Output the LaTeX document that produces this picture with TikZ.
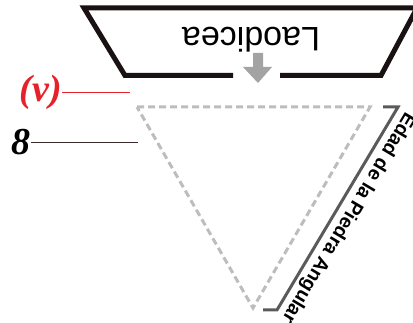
\documentclass[tikz,border=0pt]{standalone}
\usepackage{fontspec}
\setmainfont{Liberation Serif}
\setsansfont{Liberation Sans}
\definecolor{framecol}{HTML}{1A1212}
\definecolor{dashgray}{HTML}{BDBDBF}
\definecolor{bracketgray}{HTML}{5A5A5A}
\definecolor{arrowgray}{HTML}{A3A3A3}
\definecolor{labred}{HTML}{E5222B}
\definecolor{labline}{HTML}{3B2C2C}
\begin{document}
\begin{tikzpicture}[x=1pt,y=-1pt,
  tag/.style={font=\fontsize{38}{38}\selectfont\bfseries\itshape, inner sep=0pt}]
\useasboundingbox (0,0) rectangle (413,323);
% Laodicea box with the arrow
\draw[framecol, line width=5pt, line join=miter] (233,75.5) -- (125,75.5) -- (84,8) -- (417,8) -- (381,75.5) -- (280,75.5);
\node[rotate=180, inner sep=0pt, font=\sffamily\fontsize{34}{34}\selectfont] (laod) at (251,40) {Laodicea};
\fill[arrowgray] (253,53) -- (263,53) -- (263,67) -- (272,67) -- (258,83) -- (243,67) -- (253,67) -- cycle;
% dashed triangle
\coordinate (t1) at (137,107);
\coordinate (t2) at (370,107);
\coordinate (t3) at (253,308);
\draw[dashgray, line width=3pt, dash pattern=on 7pt off 4pt] (t1) -- (t2) -- (t3) -- cycle;
% bracket
\coordinate (b1) at (383,107);
\coordinate (b2) at (398,107);
\coordinate (b3) at (277,310);
\coordinate (b4) at (263,310);
\draw[bracketgray, line width=3pt] (b1) -- (b2) -- (b3) -- (b4);
\path (b2) -- (b3) node[pos=0.51, anchor=south, inner sep=4.5pt, rotate=-120.8, font=\sffamily\bfseries\fontsize{19.5}{19.5}\selectfont] (edad) {Edad de la Piedra Angular};
% labels
\node[tag, text=labred] (v) at (41,92.5) {(v)};
\coordinate (vend) at (130,92.5);
\draw[labred, line width=1pt] (v.east) -- (vend);
\node[tag] (eight) at (21.5,142.5) {8};
\coordinate (eightend) at (138,142.5);
\draw[labline, line width=1.2pt] (eight.east) -- (eightend);
\end{tikzpicture}
\end{document}
